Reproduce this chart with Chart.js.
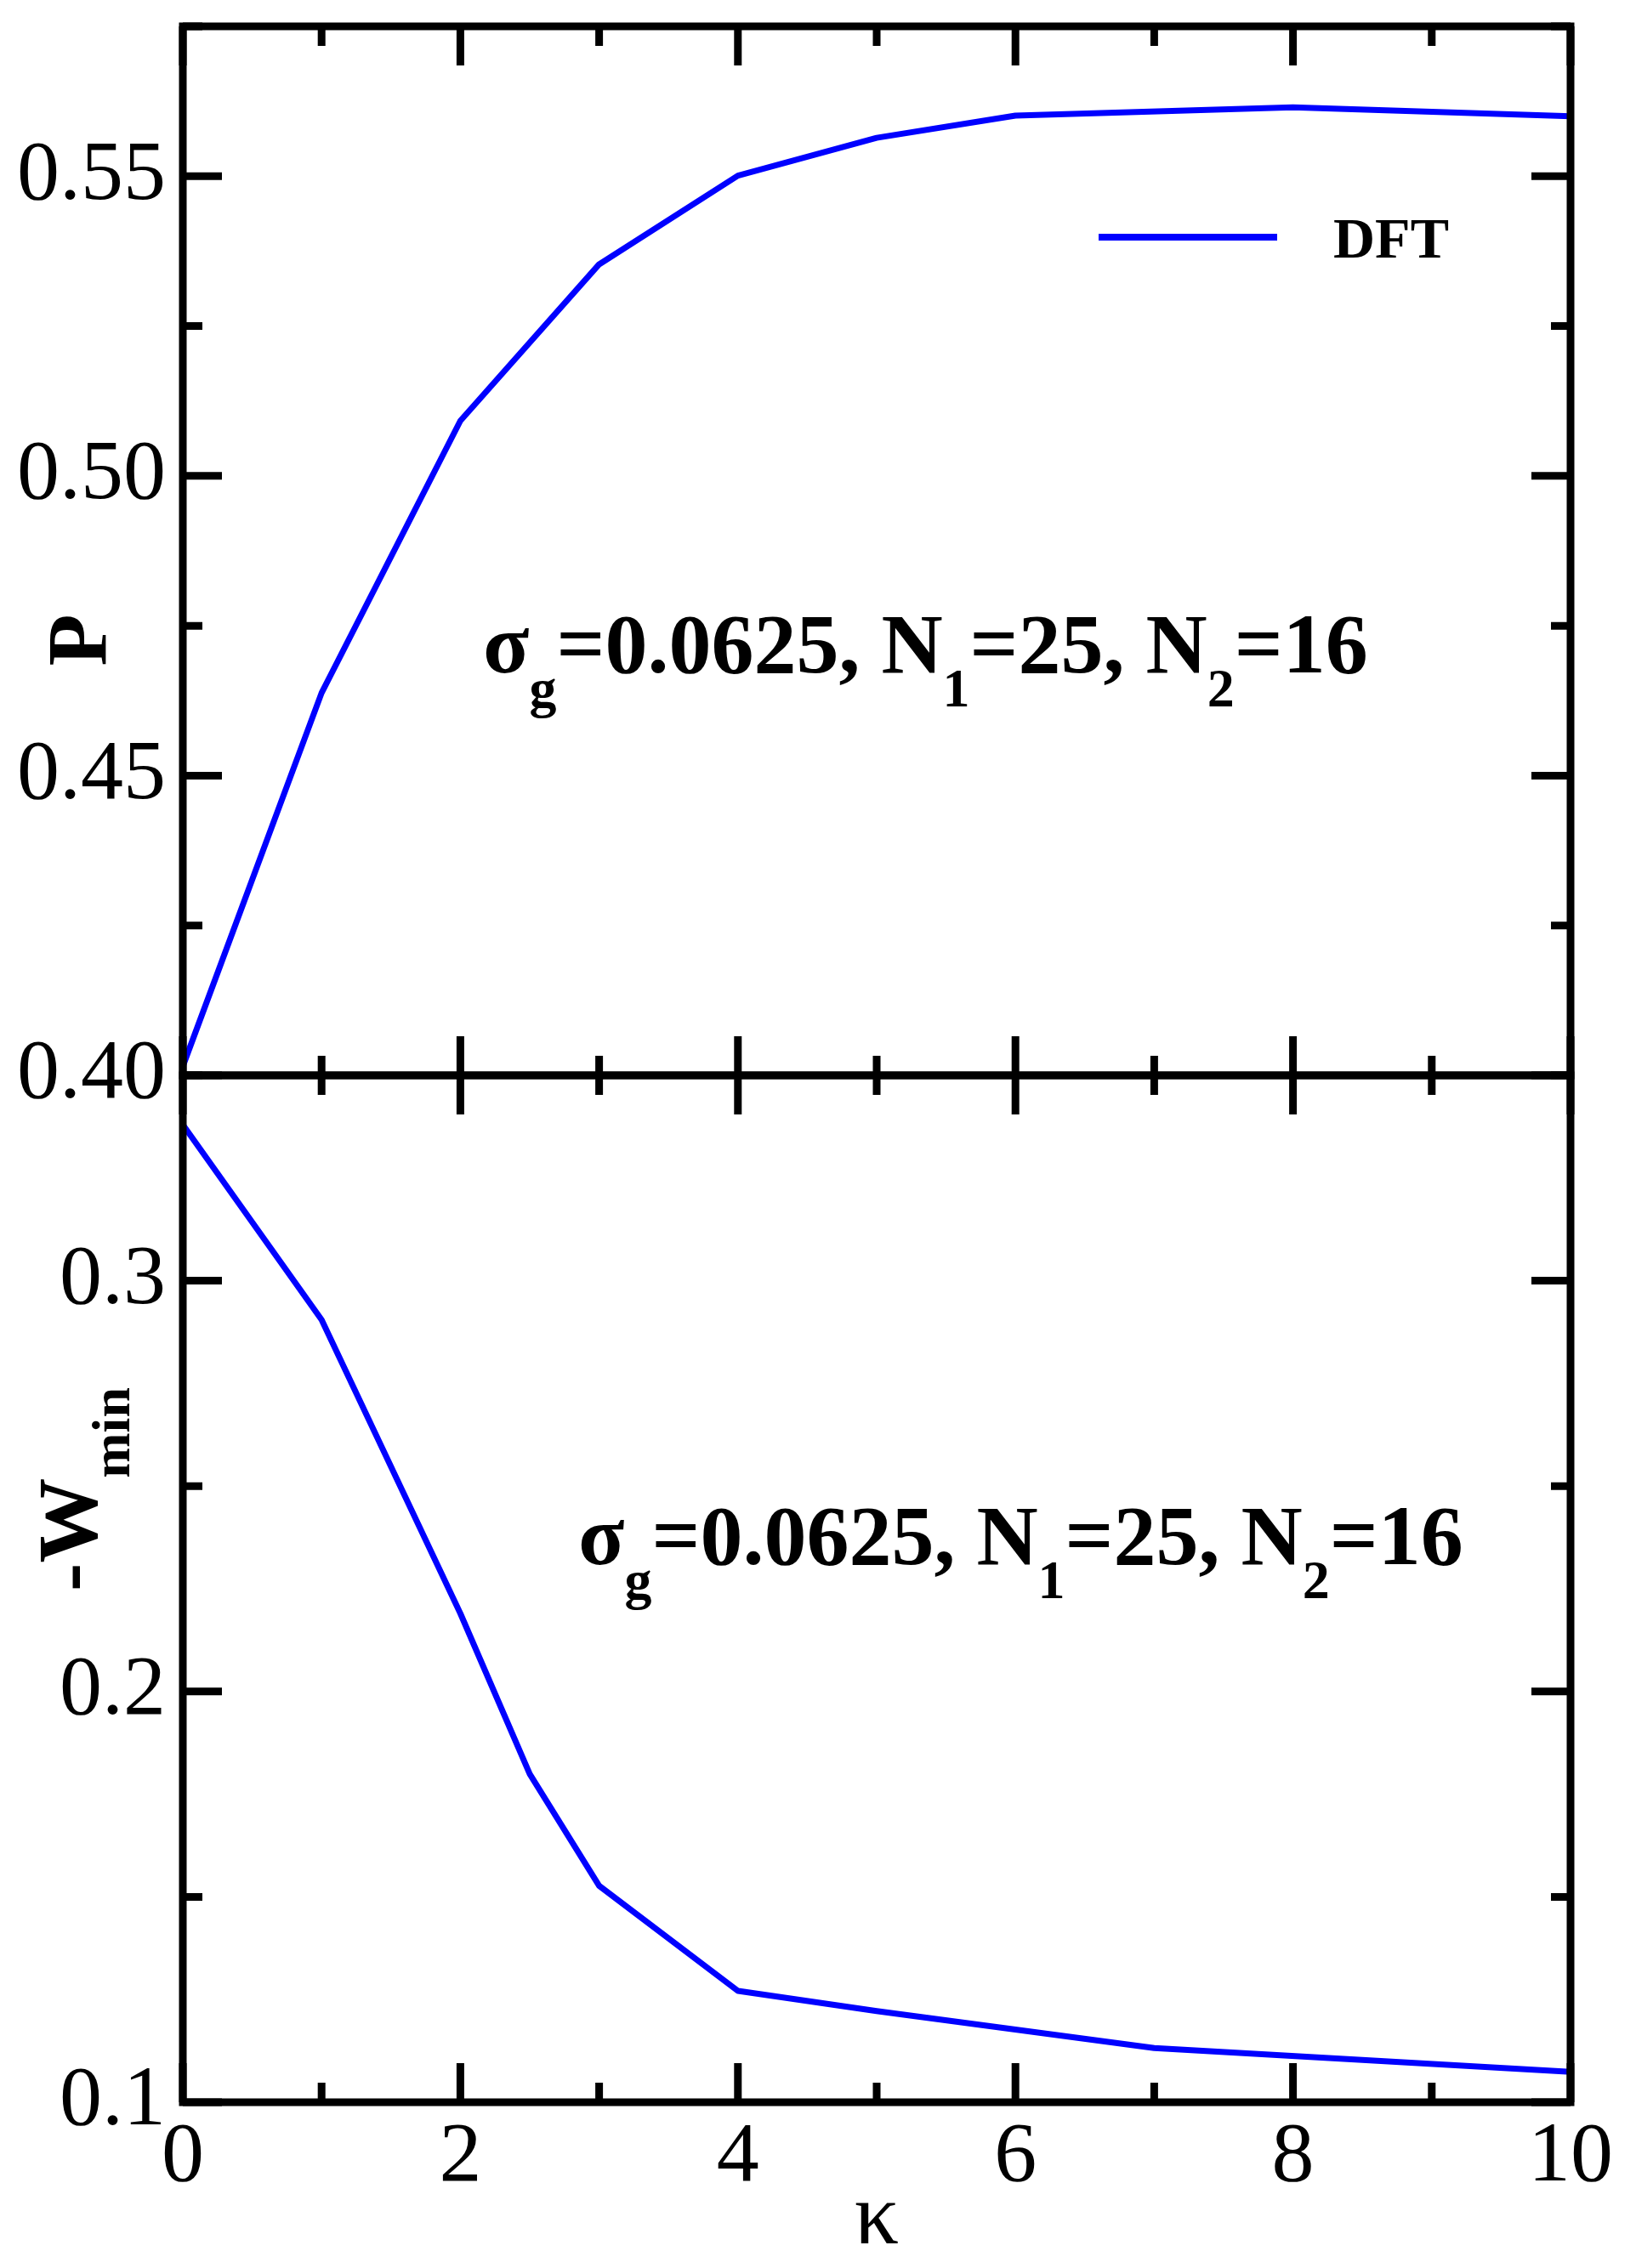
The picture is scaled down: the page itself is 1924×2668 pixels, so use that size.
<!DOCTYPE html>
<html><head><meta charset="utf-8">
<script src="https://cdn.jsdelivr.net/npm/chart.js@4.4.1/dist/chart.umd.min.js"></script>
<style>
html,body{margin:0;padding:0;background:#fff;}
#wrap{position:relative;width:1924px;height:2668px;background:#fff;}
canvas{position:absolute;left:0;top:0;}
</style></head><body>
<div id="wrap">
<canvas id="cBottom" width="1924" height="2668" style="width:1924px;height:2668px"></canvas>
<canvas id="cTop" width="1924" height="2668" style="width:1924px;height:2668px"></canvas>
</div>
<script>
// ---- data ----
const kappaP = [0, 1, 2, 3, 4, 5, 6, 8, 10];
const pValues = [0.4015, 0.4638, 0.5092, 0.5353, 0.5501, 0.5564, 0.5601, 0.5615, 0.5600];
const kappaW = [0, 1, 2, 2.5, 3, 4, 5, 7, 10];
const wValues = [0.338, 0.2905, 0.219, 0.1799, 0.1527, 0.1271, 0.1222, 0.1132, 0.1074];

const xTickLabels = ['0', '2', '4', '6', '8', '10'];
const pTickLabels = ['0.40', '0.45', '0.50', '0.55'];
const wTickLabels = ['0.1', '0.2', '0.3'];

const seriesName = 'DFT';
const xTitle = 'κ';
const pTitle = 'P';
const wTitleParts = [['-W', 0], ['min', 1]];
const annotationParts = [['σ', 0], ['g', 1], ['=0.0625, N', 0], ['1', 1], ['=25, N', 0], ['2', 1], ['=16', 0]];

// ---- styling ----
const SERIF = '"Liberation Serif", "Times New Roman", Times, serif';
const LINE_COLOR = '#0000ff';
const FRAME_W = 9;

function labelFor(list, v) {
  for (const s of list) { if (Math.abs(Number(s) - v) < 1e-6) return s; }
  return '';
}

function framePlugin(majorX, majorY) {
  return {
    id: 'frameTicks',
    afterDatasetsDraw(chart) {
      const {ctx, chartArea: a, scales: {x, y}} = chart;
      ctx.save();
      ctx.strokeStyle = '#000';
      ctx.lineWidth = FRAME_W;
      ctx.lineCap = 'butt';
      ctx.beginPath();
      x.ticks.forEach(t => {
        const px = x.getPixelForValue(t.value);
        const len = majorX(t.value) ? 46 : 23;
        ctx.moveTo(px, a.bottom); ctx.lineTo(px, a.bottom - len);
        ctx.moveTo(px, a.top); ctx.lineTo(px, a.top + len);
      });
      y.ticks.forEach(t => {
        const py = y.getPixelForValue(t.value);
        const len = majorY(t.value) ? 46 : 23;
        ctx.moveTo(a.left, py); ctx.lineTo(a.left + len, py);
        ctx.moveTo(a.right, py); ctx.lineTo(a.right - len, py);
      });
      ctx.stroke();
      ctx.lineJoin = 'miter';
      ctx.strokeRect(a.left, a.top, a.right - a.left, a.bottom - a.top);
      ctx.restore();
    }
  };
}

function drawRich(ctx, parts, x, y, mainSize, subSize, subShift) {
  let cx = x;
  parts.forEach(([t, sub]) => {
    ctx.font = 'bold ' + (sub ? subSize : mainSize) + 'px ' + SERIF;
    ctx.fillText(t, cx, y + (sub ? subShift : 0));
    cx += ctx.measureText(t).width;
  });
}

function isMult(v, step) { return Math.abs(Math.round(v / step) * step - v) < 1e-6; }

// ---- top chart ----
const topTexts = {
  id: 'topTexts',
  afterDraw(chart) {
    const ctx = chart.ctx;
    ctx.save();
    ctx.fillStyle = '#000';
    ctx.textBaseline = 'alphabetic';
    ctx.textAlign = 'left';
    drawRich(ctx, annotationParts, 568, 791, 100, 64, 40);
    ctx.translate(98, 753);
    ctx.rotate(-Math.PI / 2);
    ctx.font = 'bold 100px ' + SERIF;
    ctx.textAlign = 'center';
    ctx.textBaseline = 'middle';
    ctx.fillText(pTitle, 0, 0);
    ctx.restore();
    const ds = chart.data.datasets[0];
    ctx.save();
    ctx.strokeStyle = ds.borderColor;
    ctx.lineWidth = 8;
    ctx.beginPath();
    ctx.moveTo(1292, 279); ctx.lineTo(1502, 279);
    ctx.stroke();
    ctx.fillStyle = '#000';
    ctx.font = 'bold 68px ' + SERIF;
    ctx.textBaseline = 'alphabetic';
    ctx.fillText(ds.label, 1568, 303);
    ctx.restore();
  }
};

new Chart(document.getElementById('cTop'), {
  type: 'line',
  data: {
    datasets: [{
      label: seriesName,
      data: kappaP.map((k, i) => ({x: k, y: pValues[i]})),
      borderColor: LINE_COLOR, borderWidth: 7, pointRadius: 0, tension: 0, fill: false,
      borderJoinStyle: 'round'
    }]
  },
  options: {
    responsive: false, animation: false, devicePixelRatio: 1,
    layout: {padding: {left: 0, top: 31, right: 77, bottom: 1403}},
    plugins: {legend: {display: false}, tooltip: {enabled: false}},
    scales: {
      x: {
        type: 'linear', min: 0, max: 10,
        ticks: {display: false, stepSize: 1},
        grid: {display: false}, border: {display: false},
        afterFit(s) { s.height = 0; s.paddingLeft = 0; s.paddingRight = 0; }
      },
      y: {
        type: 'linear', min: 0.4, max: 0.575,
        ticks: {
          stepSize: 0.025, padding: 12, color: '#000',
          font: {family: SERIF, size: 100, lineHeight: 1},
          callback: v => labelFor(pTickLabels, v)
        },
        grid: {display: false}, border: {display: false},
        afterFit(s) { s.width = 215; s.paddingTop = 0; s.paddingBottom = 0; }
      }
    }
  },
  plugins: [framePlugin(v => isMult(v, 2), v => isMult(v, 0.05)), topTexts]
});

// ---- bottom chart ----
const bottomTexts = {
  id: 'bottomTexts',
  afterDraw(chart) {
    const ctx = chart.ctx;
    ctx.save();
    ctx.fillStyle = '#000';
    ctx.textBaseline = 'alphabetic';
    ctx.textAlign = 'left';
    drawRich(ctx, annotationParts, 680, 1840, 100, 64, 40);
    ctx.translate(113, 1872);
    ctx.rotate(-Math.PI / 2);
    drawRich(ctx, wTitleParts, 0, 0, 100, 64, 39);
    ctx.restore();
  }
};

new Chart(document.getElementById('cBottom'), {
  type: 'line',
  data: {
    datasets: [{
      label: seriesName,
      data: kappaW.map((k, i) => ({x: k, y: wValues[i]})),
      borderColor: LINE_COLOR, borderWidth: 7, pointRadius: 0, tension: 0, fill: false,
      borderJoinStyle: 'round'
    }]
  },
  options: {
    responsive: false, animation: false, devicePixelRatio: 1,
    layout: {padding: {left: 0, top: 1265, right: 77, bottom: 0}},
    plugins: {legend: {display: false}, tooltip: {enabled: false}},
    scales: {
      x: {
        type: 'linear', min: 0, max: 10,
        ticks: {
          stepSize: 1, padding: 8, color: '#000', maxRotation: 0, autoSkip: false,
          font: {family: SERIF, size: 100, lineHeight: 1},
          callback: v => labelFor(xTickLabels, v)
        },
        title: {display: true, text: xTitle, color: '#000',
          font: {family: SERIF, size: 104, lineHeight: 1}, padding: {top: 0, bottom: 4}},
        grid: {display: false}, border: {display: false},
        afterFit(s) { s.height = 195; s.paddingLeft = 0; s.paddingRight = 0; }
      },
      y: {
        type: 'linear', min: 0.1, max: 0.35,
        ticks: {
          stepSize: 0.05, padding: 12, color: '#000',
          font: {family: SERIF, size: 100, lineHeight: 1},
          callback: v => labelFor(wTickLabels, v)
        },
        grid: {display: false}, border: {display: false},
        afterFit(s) { s.width = 215; s.paddingTop = 0; s.paddingBottom = 0; }
      }
    }
  },
  plugins: [framePlugin(v => isMult(v, 2), v => isMult(v, 0.1)), bottomTexts]
});
</script>
</body></html>
